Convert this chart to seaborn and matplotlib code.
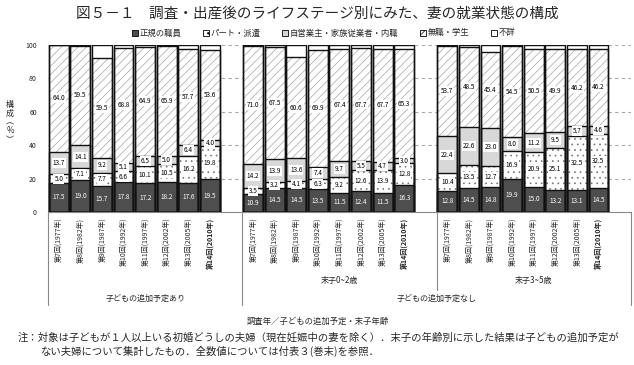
import numpy as np
import matplotlib
matplotlib.use("Agg")
import matplotlib.pyplot as plt
import seaborn as sns
from matplotlib.patches import Patch
from matplotlib import transforms

# --- data ---------------------------------------------------------------
rounds = ["第7回(1977年)", "第8回(1982年)", "第9回(1987年)", "第10回(1992年)",
          "第11回(1997年)", "第12回(2002年)", "第13回(2005年)", "第14回(2010年)"]
groups = ["子どもの追加予定あり", "末子0~2歳", "末子3~5歳"]
categories = ["正規の職員", "パート・派遣", "自営業主・家族従業者・内職", "無職・学生", "不詳"]

regular = [17.5, 19.0, 15.7, 17.8, 17.2, 18.2, 17.6, 19.5,
           10.9, 14.5, 14.5, 13.5, 11.5, 12.4, 11.5, 16.3,
           12.8, 14.5, 14.8, 19.9, 15.0, 13.2, 13.1, 14.5]
part = [5.0, 7.1, 7.7, 6.6, 10.1, 10.5, 16.2, 19.8,
        3.5, 3.2, 4.1, 6.3, 9.2, 12.6, 13.9, 12.8,
        10.4, 13.5, 12.7, 16.9, 20.9, 25.1, 32.5, 32.5]
selfemp = [13.7, 14.1, 9.2, 5.1, 6.5, 5.0, 6.4, 4.0,
           14.2, 13.9, 13.6, 7.4, 9.7, 5.5, 4.7, 3.0,
           22.4, 22.6, 23.0, 8.0, 11.2, 9.5, 5.7, 4.6]
nowork = [64.0, 59.5, 59.5, 68.8, 64.9, 65.9, 57.7, 53.6,
          71.0, 67.5, 60.6, 69.9, 67.4, 67.7, 67.7, 65.3,
          53.7, 48.5, 45.4, 54.5, 50.5, 49.9, 46.2, 46.2]
total = [100] * 24

# --- style --------------------------------------------------------------
sns.set_theme(style="white")
plt.rcParams["font.family"] = ["Noto Sans CJK JP", "DejaVu Sans"]
plt.rcParams["hatch.linewidth"] = 0.5

fig = plt.figure(figsize=(6.34, 3.65), dpi=100)
ax = fig.add_axes([48 / 634, 1 - 212 / 365, 0.995 - 48 / 634, (212 - 45) / 365])

# 8 bars per group, one empty slot after each group
pos = np.concatenate([np.arange(8) + 9 * g for g in range(3)]).astype(float)

c1 = np.array(regular)
c2 = c1 + np.array(part)
c3 = c2 + np.array(selfemp)
c4 = c3 + np.array(nowork)

for y in [20, 40, 60, 80, 100]:
    ax.axhline(y, color="#a8a8a8", lw=0.8, ls=(0, (3, 3)), zorder=0)

bw = 0.92
layers = [
    (total, dict(color="white", linewidth=0)),
    (c4, dict(color="white", edgecolor="#a6a6a6", hatch="////", linewidth=0)),
    (c3, dict(color="#d8d8d8", linewidth=0)),
    (c2, dict(color="white", edgecolor="#777777", hatch="...", linewidth=0)),
    (c1, dict(color="#4e4e4e", linewidth=0)),
]
for vals, kw in layers:
    sns.barplot(x=pos, y=vals, native_scale=True, width=bw, saturation=1,
                errorbar=None, ax=ax, zorder=2, **kw)
for vals in [total, c4, c3, c2, c1]:
    sns.barplot(x=pos, y=vals, native_scale=True, width=bw, fill=False,
                color="#111111", linewidth=1.0, errorbar=None, ax=ax, zorder=3)

# value labels
for i, p in enumerate(pos):
    segs = [(0, c1[i], regular[i]), (c1[i], c2[i], part[i]),
            (c2[i], c3[i], selfemp[i]), (c3[i], c4[i], nowork[i])]
    for k, (lo, hi, v) in enumerate(segs):
        ym = (lo + hi) / 2
        if k == 0:
            ax.text(p, ym, f"{v:.1f}", ha="center", va="center", fontsize=4.6,
                    color="white", zorder=5)
        else:
            ax.text(p, ym, f"{v:.1f}", ha="center", va="center", fontsize=4.6,
                    color="black", zorder=5,
                    bbox=dict(boxstyle="square,pad=0.15", fc="white", ec="none"))

ax.set_xlim(-0.5, 26.5)
ax.set_ylim(0, 100)
ax.set_yticks([0, 20, 40, 60, 80, 100])
ax.set_yticklabels(["0", "20", "40", "60", "80", "100"], fontsize=5)
ax.set_xticks(pos)
ax.set_xticklabels(rounds * 3, rotation=90, fontsize=5, va="top")
for lab in ax.get_xticklabels()[7::8]:
    lab.set_fontweight("bold")
ax.tick_params(axis="both", length=0)
ax.tick_params(axis="y", pad=8)
ax.tick_params(axis="x", pad=4)
ax.set_xlabel("")
ax.set_ylabel("")
for s in ["left", "top", "right"]:
    ax.spines[s].set_visible(False)
ax.spines["bottom"].set_color("#888888")
ax.spines["bottom"].set_linewidth(0.8)

# category boxes below the axis
tr = transforms.blended_transform_factory(ax.transData, fig.transFigure)
y0 = 1 - 212 / 365
for x, yb in [(-0.5, 305), (8.5, 305), (17.5, 290), (26.5, 305)]:
    ax.plot([x, x], [y0, 1 - yb / 365], color="#888888", lw=0.8,
            transform=tr, clip_on=False)
ax.text(4, 1 - 298 / 365, groups[0], transform=tr, ha="center", va="center", fontsize=5.8)
ax.text(13, 1 - 280 / 365, groups[1], transform=tr, ha="center", va="center", fontsize=5.8)
ax.text(22, 1 - 280 / 365, groups[2], transform=tr, ha="center", va="center", fontsize=5.8)
ax.text(17.5, 1 - 298 / 365, "子どもの追加予定なし", transform=tr, ha="center", va="center", fontsize=5.8)

# titles and notes
fig.text(0.5, 1 - 14 / 365, "図５－１　調査・出産後のライフステージ別にみた、妻の就業状態の構成",
         ha="center", va="center", fontsize=10.5)
fig.text(10 / 634, 1 - 122 / 365, "構\n成\n︵\n%\n︶", ha="center", va="center",
         fontsize=5.8, linespacing=1.0)
fig.text(318 / 634, 1 - 321 / 365, "調査年／子どもの追加予定・末子年齢",
         ha="center", va="center", fontsize=6)
fig.text(18 / 634, 1 - 338 / 365,
         "注：対象は子どもが１人以上いる初婚どうしの夫婦（現在妊娠中の妻を除く）．末子の年齢別に示した結果は子どもの追加予定が",
         ha="left", va="center", fontsize=7.45)
fig.text(40 / 634, 1 - 351 / 365,
         "ない夫婦について集計したもの．全数値については付表３(巻末)を参照．",
         ha="left", va="center", fontsize=7.45)

handles = [
    Patch(facecolor="#4e4e4e", edgecolor="black", lw=0.6),
    Patch(facecolor="white", edgecolor="black", lw=0.6, hatch=".."),
    Patch(facecolor="#d8d8d8", edgecolor="black", lw=0.6),
    Patch(facecolor="white", edgecolor="black", lw=0.6, hatch="///"),
    Patch(facecolor="white", edgecolor="black", lw=0.6),
]
fig.legend(handles, categories, loc="center", bbox_to_anchor=(0.51, 1 - 33 / 365),
           ncol=5, frameon=False, fontsize=6, handlelength=0.7, handleheight=0.7,
           handletextpad=0.2, columnspacing=2.6)

fig.savefig("out.png", dpi=100)
